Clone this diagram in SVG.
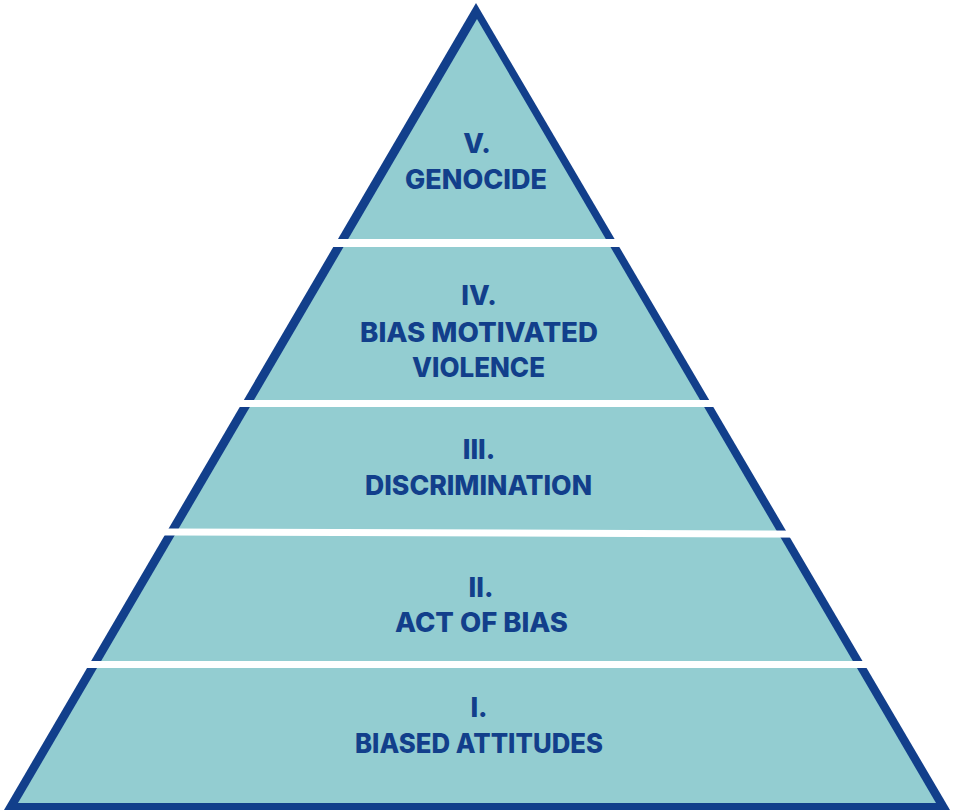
<svg xmlns="http://www.w3.org/2000/svg" width="954" height="811" viewBox="0 0 954 811">
  <style>
    .edge { fill: #123f8b; }
    .body { fill: #93cdd1; }
    .gap { fill: #ffffff; }
    .lbl { font-family: Inter, "Liberation Sans", sans-serif; font-weight: 800; font-size: 27px; fill: #123f8b; text-anchor: middle; }
  </style>
  <!-- pyramid body: dark outline with teal interior -->
  <g id="pyramid">
    <polygon class="edge" points="476,3 4,810 950,810"/>
    <polygon class="body" points="477,19 18,803 936,803"/>
  </g>
  <!-- white gaps splitting the pyramid into tiers -->
  <g id="separators">
    <rect class="gap" x="0" y="239" width="954" height="8"/>
    <rect class="gap" x="0" y="400" width="954" height="7"/>
    <polygon class="gap" points="0,528 954,531 954,538 0,535"/>
    <rect class="gap" x="0" y="661" width="954" height="7"/>
  </g>
  <g id="tier5">
    <text class="lbl" x="477" y="153">V.</text>
    <text class="lbl" x="476" y="189" textLength="142" lengthAdjust="spacingAndGlyphs">GENOCIDE</text>
  </g>
  <g id="tier4">
    <text class="lbl" x="479" y="305">IV.</text>
    <text class="lbl" x="479" y="342" textLength="238" lengthAdjust="spacingAndGlyphs">BIAS MOTIVATED</text>
    <text class="lbl" x="478.5" y="377" textLength="133" lengthAdjust="spacingAndGlyphs">VIOLENCE</text>
  </g>
  <g id="tier3">
    <text class="lbl" x="479" y="459">III.</text>
    <text class="lbl" x="478.5" y="495" textLength="227" lengthAdjust="spacingAndGlyphs">DISCRIMINATION</text>
  </g>
  <g id="tier2">
    <text class="lbl" x="481" y="597">II.</text>
    <text class="lbl" x="481.5" y="632" textLength="173" lengthAdjust="spacingAndGlyphs">ACT OF BIAS</text>
  </g>
  <g id="tier1">
    <text class="lbl" x="479" y="717">I.</text>
    <text class="lbl" x="479" y="753" textLength="248" lengthAdjust="spacingAndGlyphs">BIASED ATTITUDES</text>
  </g>
</svg>
